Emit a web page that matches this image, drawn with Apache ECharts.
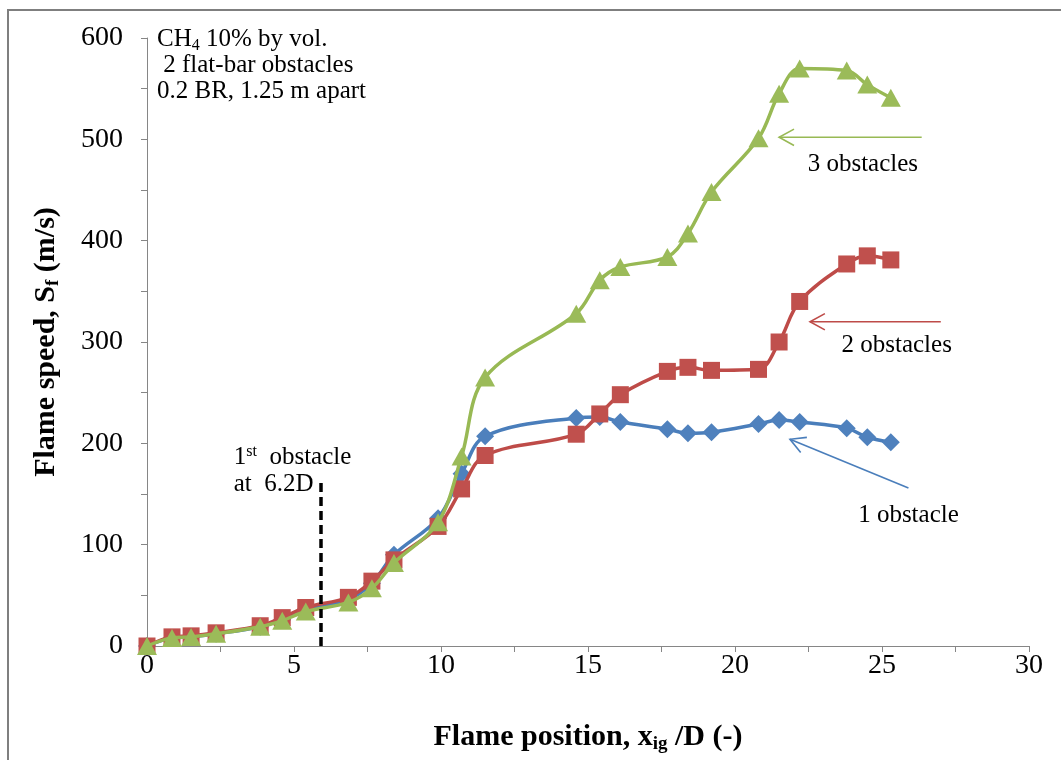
<!DOCTYPE html>
<html>
<head>
<meta charset="utf-8">
<script src="https://cdn.jsdelivr.net/npm/echarts@6/dist/echarts.min.js"></script>
<style>html,body{margin:0;padding:0;background:#fff}#chart{width:1061px;height:760px}</style>
</head>
<body>
<div id="chart"></div>
<script>
// flame position x/D, shared by the three runs
const xPos = [0, 0.85, 1.5, 2.35, 3.85, 4.6, 5.4, 6.85, 7.65, 8.4, 9.9, 10.7, 11.5, 14.6, 15.4, 16.1, 17.7, 18.4, 19.2, 20.8, 21.5, 22.2, 23.8, 24.5, 25.3];
const oneObstacle = [0, 8, 9, 12, 19, 26, 36, 46, 62, 90, 126, 170, 207, 225, 226, 221, 214, 210, 211, 219, 223, 221, 215, 206, 201];
const twoObstacles = [0, 9, 10, 13, 20, 28, 38, 48, 64, 85, 118, 155, 188, 209, 229, 248, 271, 275, 272, 273, 300, 340, 377, 385, 381];
const threeObstacles = [0, 8, 9, 12, 19, 25, 34, 43, 57, 82, 122, 187, 265, 328, 361, 374, 384, 407, 448, 501, 545, 570, 568, 554, 541];
const xTicks = [0, 30, 2.5];
const yTicks = [0, 600, 50];
// dashed marker of the first obstacle
const firstObstacle = [[5.9, 0], [5.9, 162]];
// arrows pointing to the curves (tail, head) in data units
const arrow3 = [[26.35, 502], [21.5, 502]];
const arrow2 = [[27.0, 320], [22.55, 320]];
const arrow1 = [[25.9, 156], [21.87, 204]];

const serif = "'Liberation Serif', 'Times New Roman', serif";
const cBlue = '#4A7EBB', cRed = '#BE4B48', cGreen = '#98B954';

const pts = vals => xPos.map((x, i) => [x, vals[i]]);

const chart = echarts.init(document.getElementById('chart'));

const axisCommon = {
  axisLine: { lineStyle: { color: '#868686', width: 1 } },
  axisTick: { length: 6, lineStyle: { color: '#868686' } },
  splitLine: { show: false }
};

const option = {
  animation: false,
  backgroundColor: '#fff',
  grid: { left: 147, right: 32, top: 38, bottom: 114 },
  xAxis: Object.assign({
    type: 'value', min: xTicks[0], max: xTicks[1], interval: xTicks[2],
    axisLabel: {
      margin: 6, color: '#000', fontFamily: serif, fontSize: 28,
      formatter: v => (v % 5 === 0 ? String(v) : '')
    },
    name: '{b|Flame position, x}{s|ig}{b| /D (-)}',
    nameLocation: 'middle', nameGap: 75,
    nameTextStyle: {
      rich: {
        b: { fontFamily: serif, fontSize: 30, fontWeight: 'bold', color: '#000' },
        s: { fontFamily: serif, fontSize: 19, fontWeight: 'bold', color: '#000', padding: [14, 0, 0, 0] }
      }
    }
  }, axisCommon),
  yAxis: Object.assign({
    type: 'value', min: yTicks[0], max: yTicks[1], interval: yTicks[2],
    axisLabel: {
      margin: 24, color: '#000', fontFamily: serif, fontSize: 28,
      formatter: v => (v % 100 === 0 ? String(v) : '')
    },
    name: '{b|Flame speed, S}{s|f}{b| (m/s)}',
    nameLocation: 'middle', nameGap: 84,
    nameTextStyle: {
      rich: {
        b: { fontFamily: serif, fontSize: 30, fontWeight: 'bold', color: '#000' },
        s: { fontFamily: serif, fontSize: 19, fontWeight: 'bold', color: '#000', padding: [14, 0, 0, 0] }
      }
    }
  }, axisCommon),
  series: [
    {
      name: '1 obstacle', type: 'line', data: pts(oneObstacle), smooth: 0.35,
      symbol: 'diamond', symbolSize: 18,
      lineStyle: { color: cBlue, width: 3.5 }, itemStyle: { color: '#4F81BD' },
      markLine: {
        silent: true, symbol: ['none', 'none'], label: { show: false },
        lineStyle: { color: '#000', type: [9, 5], width: 3.5 },
        data: [[{ coord: firstObstacle[0] }, { coord: firstObstacle[1] }]]
      },
      z: 2
    },
    {
      name: '2 obstacles', type: 'line', data: pts(twoObstacles), smooth: 0.35,
      symbol: 'rect', symbolSize: 17,
      lineStyle: { color: cRed, width: 3.5 }, itemStyle: { color: '#C0504D' },
      z: 3
    },
    {
      name: '3 obstacles', type: 'line', data: pts(threeObstacles), smooth: 0.35,
      symbol: 'triangle', symbolSize: [20, 18],
      lineStyle: { color: cGreen, width: 3.5 }, itemStyle: { color: '#9BBB59' },
      z: 4
    }
  ]
};

chart.setOption(option);

const px = p => chart.convertToPixel({ gridIndex: 0 }, p);

function arrowShapes(a, color) {
  const s = px(a[0]), e = px(a[1]);
  const ang = Math.atan2(s[1] - e[1], s[0] - e[0]);
  const len = 17, spread = 0.5;
  const arm = d => [e[0] + len * Math.cos(ang + d), e[1] + len * Math.sin(ang + d)];
  const style = { stroke: color, lineWidth: 1.6, fill: null };
  return [
    { type: 'line', shape: { x1: s[0], y1: s[1], x2: e[0], y2: e[1] }, style },
    { type: 'polyline', shape: { points: [arm(spread), e, arm(-spread)] }, style }
  ];
}

function note(pos, text, rich, align) {
  const p = px(pos);
  return {
    type: 'text', x: p[0], y: p[1], z: 10,
    style: { text, rich, align: align || 'left', verticalAlign: 'middle', fontFamily: serif, fontSize: 25, fill: '#000' }
  };
}

const base = { fontFamily: serif, fontSize: 25, color: '#000' };
const richNote = {
  n: Object.assign({ lineHeight: 26 }, base),
  sub: { fontFamily: serif, fontSize: 16, color: '#000', lineHeight: 26, padding: [12, 0, 0, 0] },
  sup: { fontFamily: serif, fontSize: 16, color: '#000', lineHeight: 26, padding: [0, 0, 12, 0] }
};

chart.setOption({
  graphic: [
    { type: 'rect', shape: { x: 8, y: 10, width: 1100, height: 800 }, style: { stroke: '#7f7f7f', lineWidth: 2, fill: null }, silent: true },
    ...arrowShapes(arrow3, cGreen),
    ...arrowShapes(arrow2, cRed),
    ...arrowShapes(arrow1, cBlue),
    note([0.34, 573], '{n|CH}{sub|4}{n| 10% by vol.}\n{n| 2 flat-bar obstacles}\n{n|0.2 BR, 1.25 m apart}', richNote),
    note([24.35, 475], '{n|3 obstacles}', richNote, 'center'),
    note([25.5, 297], '{n|2 obstacles}', richNote, 'center'),
    note([25.9, 129], '{n|1 obstacle}', richNote, 'center'),
    note([2.95, 186], '{n|1}{sup|st}{n|  obstacle}', richNote),
    note([2.95, 159], '{n|at  6.2D}', richNote)
  ]
});
</script>
</body>
</html>
